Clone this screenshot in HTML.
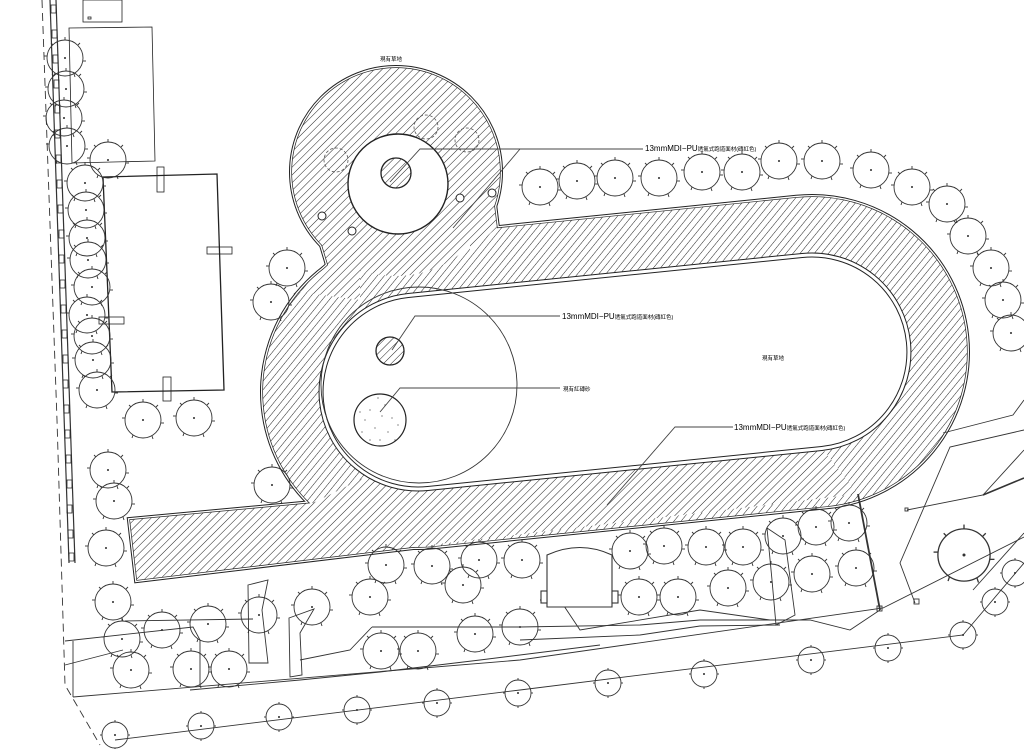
<!DOCTYPE html>
<html><head><meta charset="utf-8"><style>
html,body{margin:0;padding:0;background:#fff;width:1024px;height:749px;overflow:hidden}
svg{display:block}
text{font-family:"Liberation Sans","Noto Sans CJK TC",sans-serif;fill:#000}
</style></head><body>
<svg width="1024" height="749" viewBox="0 0 1024 749" xmlns="http://www.w3.org/2000/svg">
<defs>
<pattern id="h" patternUnits="userSpaceOnUse" width="5.5" height="5.5" patternTransform="rotate(45)">
<rect width="5.5" height="5.5" fill="#fff"/><line x1="0" y1="0" x2="0" y2="5.5" stroke="#222" stroke-width="1"/>
</pattern>
<g id="t" fill="none" stroke="#333" stroke-width="0.9">
<circle r="18"/>
<line x1="0" y1="-18" x2="0" y2="-21"/><line x1="13" y1="-13" x2="15" y2="-15"/>
<line x1="18" y1="3" x2="21" y2="3"/><line x1="9" y1="16" x2="10" y2="19"/>
<line x1="-10" y1="15" x2="-11" y2="18"/><line x1="-18" y1="-2" x2="-21" y2="-2"/>
<line x1="-12" y1="-13" x2="-14" y2="-15"/>
<circle r="0.6" fill="#333"/>
</g>
<g id="s" fill="none" stroke="#333" stroke-width="0.9">
<circle r="13"/>
<line x1="0" y1="-13" x2="0" y2="-15"/><line x1="13" y1="0" x2="15" y2="0"/>
<line x1="0" y1="13" x2="0" y2="15"/><line x1="-13" y1="0" x2="-15" y2="0"/>
<circle r="0.6" fill="#333"/>
</g>
<path id="outer" d="M418,237 L814,237 A155,155 0 0 1 814,547 L418,547 A155,155 0 0 1 418,237 Z" transform="rotate(-5.8 418 392)"/>
<path id="inner" d="M418,295 L814,295 A97,97 0 0 1 814,489 L418,489 A97,97 0 0 1 418,295 Z" transform="rotate(-5.8 418 392)"/>
<circle id="bc" cx="396" cy="172" r="104"/>
<polygon id="strip" points="130,520 313,503 420,450 800,420 858,494 137,580"/>
<polygon id="f1" points="322,245 328,265 300,292 360,300 360,240"/>
<polygon id="f2" points="470,215 494,204 497,228 470,250"/>
</defs>

<!-- left boundary -->
<g fill="none" stroke="#333" stroke-width="0.9">
<polyline points="42,0 57,420 65,685 100,745" stroke-dasharray="8,5"/>
<line x1="50" y1="0" x2="69" y2="563" stroke-width="1.2"/>
<line x1="56" y1="0" x2="75" y2="563" stroke-width="1.2"/>
</g>
<g fill="none" stroke="#222" stroke-width="0.8">
<!-- squares along wall -->
<path d="M51,5h5v8h-5z M52,30h5v8h-5z M53,55h5v8h-5z M54,80h5v8h-5z M55,105h5v8h-5z M55,130h5v8h-5z M56,155h5v8h-5z M57,180h5v8h-5z M58,205h5v8h-5z M59,230h5v8h-5z M59,255h5v8h-5z M60,280h5v8h-5z M61,305h5v8h-5z M62,330h5v8h-5z M63,355h5v8h-5z M63,380h5v8h-5z M64,405h5v8h-5z M65,430h5v8h-5z M66,455h5v8h-5z M67,480h5v8h-5z M67,505h5v8h-5z M68,530h5v8h-5z M69,553h5v8h-5z"/>
<!-- rectangles -->
<rect x="83" y="0" width="39" height="22"/>
<rect x="88" y="17" width="3" height="2"/>
<polygon points="69,28 152,27 155,161 72,163"/>
<polygon points="103,177 217,174 224,390 112,392" stroke-width="1.3"/>
<rect x="157" y="167" width="7" height="25"/>
<rect x="207" y="247" width="25" height="7"/>
<rect x="99" y="317" width="25" height="7"/>
<rect x="163" y="377" width="8" height="24"/>
</g>

<!-- hatched union -->
<g stroke="#222" fill="none">
<g stroke-width="6"><use href="#outer"/><use href="#bc"/><use href="#strip"/><use href="#f1"/><use href="#f2"/></g>
<g stroke-width="4" stroke="#fff"><use href="#outer"/><use href="#bc"/><use href="#strip"/><use href="#f1"/><use href="#f2"/></g>
<g stroke-width="1.4"><use href="#outer"/><use href="#bc"/><use href="#strip"/><use href="#f1"/><use href="#f2"/></g>
</g>
<g fill="url(#h)" stroke="none"><use href="#outer"/><use href="#bc"/><use href="#strip"/><use href="#f1"/><use href="#f2"/></g>
<use href="#inner" fill="#fff" stroke="#222" stroke-width="5"/>
<use href="#inner" fill="none" stroke="#fff" stroke-width="3"/>
<circle cx="398" cy="184" r="50" fill="#fff" stroke="#222" stroke-width="1.4"/>
<circle cx="396" cy="173" r="15" fill="url(#h)" stroke="#222" stroke-width="1.3"/>
<g fill="none" stroke="#555" stroke-width="0.8" stroke-dasharray="3,2">
<circle cx="426" cy="127" r="12"/><circle cx="467" cy="140" r="12"/><circle cx="336" cy="160" r="12"/>
</g>
<g fill="#fff" stroke="#222" stroke-width="1">
<circle cx="322" cy="216" r="4"/><circle cx="352" cy="231" r="4"/><circle cx="460" cy="198" r="4"/><circle cx="492" cy="193" r="4"/>
</g>

<!-- inner field -->
<circle cx="419" cy="385" r="98" fill="none" stroke="#333" stroke-width="0.9"/>
<circle cx="390" cy="351" r="14" fill="url(#h)" stroke="#222" stroke-width="1.3"/>
<circle cx="380" cy="420" r="26" fill="#fff" stroke="#222" stroke-width="1.2"/>
<g fill="#444">
<circle cx="370" cy="410" r="0.6"/><circle cx="385" cy="405" r="0.6"/><circle cx="392" cy="418" r="0.6"/><circle cx="375" cy="428" r="0.6"/><circle cx="365" cy="420" r="0.6"/><circle cx="388" cy="432" r="0.6"/><circle cx="380" cy="440" r="0.6"/><circle cx="398" cy="425" r="0.6"/><circle cx="362" cy="432" r="0.6"/><circle cx="378" cy="398" r="0.6"/><circle cx="395" cy="440" r="0.6"/><circle cx="370" cy="440" r="0.6"/><circle cx="382" cy="416" r="0.6"/><circle cx="360" cy="412" r="0.6"/>
</g>

<!-- leaders -->
<g stroke="#444" stroke-width="0.9" fill="none">
<polyline points="390,182 420,149 643,149"/>
<line x1="520" y1="149" x2="453" y2="228"/>
<polyline points="392,350 415,316 560,316"/>
<polyline points="380,412 400,388 560,388"/>
<polyline points="607,505 675,427 733,427"/>
</g>
<g font-size="8">
<text x="645" y="151">13mmMDI−PU<tspan font-size="5.5">透氣式跑道面材(磚紅色)</tspan></text>
<text x="562" y="319">13mmMDI−PU<tspan font-size="5.5">透氣式跑道面材(磚紅色)</tspan></text>
<text x="734" y="430">13mmMDI−PU<tspan font-size="5.5">透氣式跑道面材(磚紅色)</tspan></text>
</g>
<g font-size="5.5">
<text x="380" y="61">現有草地</text>
<text x="762" y="360">現有草地</text>
<text x="563" y="391">現有紅磚砂</text>
</g>

<!-- right strip vertical and right region -->
<g fill="none" stroke="#333" stroke-width="0.9">
<line x1="858" y1="494" x2="880" y2="610" stroke-width="1.8"/>
<polyline points="943,433 1013,415 1024,400"/>
<polyline points="1024,430 950,447 900,563 915,603"/>
<polyline points="907,510 983,495 1024,450"/>
<line x1="983" y1="495" x2="1024" y2="478" stroke-width="1.6"/>
<polyline points="973,590 1024,533"/>
<rect x="905" y="508" width="3" height="3"/>
<rect x="914" y="599" width="5" height="5"/>
<rect x="877" y="606" width="5" height="5"/>
<!-- bottom corridor lines -->
<polyline points="73,697 520,660 883,608 1024,537"/>
<polyline points="115,740 520,690 963,635 1024,563"/>
<polyline points="65,641 193,627 200,640 200,687"/>
<polyline points="65,665 123,650"/>
<polyline points="125,621 253,619"/>
<polyline points="372,627 520,627 640,625 700,620 810,620 850,630 880,610"/>
<polyline points="520,640 640,635 700,626 780,625"/>
<polyline points="300,660 350,650 372,627"/>
<polyline points="190,690 300,680 380,672 480,660 600,645"/>
<polyline points="73,697 73,641"/>
<path d="M248,585 L268,580 L262,610 L268,663 L249,663 Z"/>
<path d="M289,618 L314,609 L300,633 L302,675 L290,677 Z"/>
<path d="M767,528 L785,540 L795,615 L776,625 L772,580 Z"/>
<path d="M540,600 L560,600 L580,630 L700,610 L770,620"/>
</g>
<!-- stage -->
<g fill="#fff" stroke="#333" stroke-width="1.1">
<path d="M547,555 Q580,540 612,555 L612,607 L547,607 Z"/>
<rect x="541" y="591" width="6" height="12"/>
<rect x="612" y="591" width="6" height="12"/>
</g>

<!-- trees -->
<g>
<use href="#t" x="540" y="187"/><use href="#t" x="577" y="181"/><use href="#t" x="615" y="178"/><use href="#t" x="659" y="178"/><use href="#t" x="702" y="172"/><use href="#t" x="742" y="172"/><use href="#t" x="779" y="161"/><use href="#t" x="822" y="161"/><use href="#t" x="871" y="170"/><use href="#t" x="912" y="187"/><use href="#t" x="947" y="204"/><use href="#t" x="968" y="236"/><use href="#t" x="991" y="268"/><use href="#t" x="1003" y="300"/><use href="#t" x="1011" y="333"/>
<use href="#t" x="65" y="58"/><use href="#t" x="66" y="89"/><use href="#t" x="64" y="118"/><use href="#t" x="67" y="146"/><use href="#t" x="108" y="160"/><use href="#t" x="85" y="183"/><use href="#t" x="86" y="210"/><use href="#t" x="87" y="238"/><use href="#t" x="88" y="260"/><use href="#t" x="92" y="287"/><use href="#t" x="87" y="315"/><use href="#t" x="92" y="336"/><use href="#t" x="93" y="360"/><use href="#t" x="97" y="390"/><use href="#t" x="143" y="420"/><use href="#t" x="194" y="418"/>
<use href="#t" x="287" y="268"/><use href="#t" x="271" y="302"/><use href="#t" x="272" y="485"/><use href="#t" x="108" y="470"/><use href="#t" x="114" y="501"/><use href="#t" x="106" y="548"/><use href="#t" x="113" y="602"/>
<use href="#t" x="386" y="565"/><use href="#t" x="432" y="566"/><use href="#t" x="479" y="560"/><use href="#t" x="463" y="585"/><use href="#t" x="370" y="597"/><use href="#t" x="522" y="560"/>
<use href="#t" x="122" y="639"/><use href="#t" x="162" y="630"/><use href="#t" x="208" y="624"/><use href="#t" x="259" y="615"/><use href="#t" x="312" y="607"/><use href="#t" x="131" y="670"/><use href="#t" x="191" y="669"/><use href="#t" x="229" y="669"/><use href="#t" x="381" y="651"/><use href="#t" x="418" y="651"/><use href="#t" x="475" y="634"/><use href="#t" x="520" y="627"/>
<use href="#t" x="630" y="551"/><use href="#t" x="664" y="546"/><use href="#t" x="706" y="547"/><use href="#t" x="743" y="547"/><use href="#t" x="783" y="536"/><use href="#t" x="816" y="527"/><use href="#t" x="849" y="523"/><use href="#t" x="639" y="597"/><use href="#t" x="678" y="597"/><use href="#t" x="728" y="588"/><use href="#t" x="771" y="582"/><use href="#t" x="812" y="574"/><use href="#t" x="856" y="568"/>
<use href="#t" transform="translate(964 555) scale(1.45)"/>
<use href="#s" x="1015" y="573"/><use href="#s" x="995" y="602"/><use href="#s" x="963" y="635"/><use href="#s" x="888" y="648"/><use href="#s" x="811" y="660"/><use href="#s" x="704" y="674"/><use href="#s" x="608" y="683"/><use href="#s" x="518" y="693"/><use href="#s" x="437" y="703"/><use href="#s" x="357" y="710"/><use href="#s" x="279" y="717"/><use href="#s" x="201" y="726"/><use href="#s" x="115" y="735"/>
</g>
</svg>
</body></html>
